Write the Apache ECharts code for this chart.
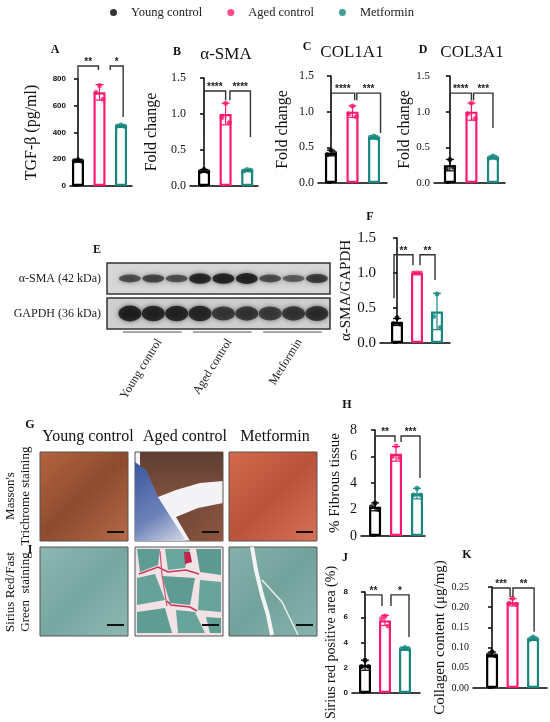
<!DOCTYPE html>
<html style="height: 100%">
<head>
<meta charset="utf-8">
</head>
<body style="height: 100%; margin: 0; background: #fff">
<div id="container" style="width: 550px; height: 722px"></div>
<script src="https://cdn.jsdelivr.net/npm/echarts@6/dist/echarts.min.js"></script>
<script>
var groups = ['Young control', 'Aged control', 'Metformin'];
var groupColors = ['#000000', '#ff1a70', '#17877f'];

// A  TGF-beta
var tgfMean = [190, 700, 450];
var tgfSd = [8, 58, 6];
var tgfPoints = [[196, 188, 186], [752, 700, 648], [456, 448, 447]];
var tgfBrackets = [[0, 0.95, 897, 419, 867, '**'], [1.5, 2.1, 897, 867, 516, '*']];

// B  alpha-SMA mRNA
var smaMean = [0.21, 1.0, 0.22];
var smaSd = [0.02, 0.15, 0.01];
var smaPoints = [[0.23, 0.20, 0.20], [1.15, 0.95, 0.88], [0.23, 0.21, 0.22]];
var smaBrackets = [[0, 1, 1.32, 0.68, 1.19, '****'], [1.2, 2.15, 1.32, 1.19, 0.68, '****']];

// C  COL1A1
var col1Mean = [0.42, 1.0, 0.64];
var col1Sd = [0.04, 0.08, 0.02];
var col1Points = [[0.46, 0.40, 0.42], [1.08, 0.97, 0.93], [0.66, 0.64, 0.63]];
var col1Brackets = [[0, 1.1, 1.26, 0.64, 1.16, '****'], [1.2, 2.3, 1.26, 1.16, 0.70, '***']];

// D  COL3A1
var col3Mean = [0.25, 1.0, 0.36];
var col3Sd = [0.08, 0.12, 0.02];
var col3Points = [[0.33, 0.20, 0.22], [1.12, 0.97, 0.90], [0.38, 0.35, 0.35]];
var col3Brackets = [[0, 1, 1.26, 0.77, 1.16, '****'], [1.1, 2.0, 1.26, 1.16, 0.77, '***']];

// F  alpha-SMA / GAPDH
var ratioMean = [0.30, 1.0, 0.45];
var ratioSd = [0.05, 0.0, 0.26];
var ratioPoints = [[0.36, 0.28, 0.27], [1.0, 1.0, 1.0], [0.70, 0.38, 0.22]];
var ratioBrackets = [[-0.15, 0.8, 1.26, 0.64, 1.11, '**'], [1.15, 1.9, 1.26, 1.11, 0.90, '**']];

// H  % fibrous tissue
var fibMean = [2.2, 6.2, 3.2];
var fibSd = [0.3, 0.55, 0.4];
var fibPoints = [[2.5, 2.2, 2.0], [6.8, 6.0, 5.9], [3.6, 3.1, 3.1]];
var fibBrackets = [[0, 0.95, 7.55, 2.94, 7.1, '**'], [1.24, 2.14, 7.55, 7.1, 4.38, '***']];

// J  Sirius red positive area
var siriusMean = [2.2, 5.75, 3.5];
var siriusSd = [0.4, 0.4, 0.1];
var siriusPoints = [[2.6, 2.1, 2.1], [6.1, 5.9, 5.3], [3.6, 3.5, 3.5]];
var siriusBrackets = [[0, 0.85, 7.77, 3.17, 6.9, '**'], [1.3, 2.2, 7.77, 6.9, 4.44, '*']];

// K  collagen content
var collMean = [0.083, 0.212, 0.122];
var collSd = [0.006, 0.009, 0.004];
var collPoints = [[0.090, 0.082, 0.080], [0.222, 0.210, 0.207], [0.126, 0.120, 0.121]];
var collBrackets = [[0, 0.88, 0.2475, 0.139, 0.225, '***'], [1.02, 2.05, 0.2475, 0.225, 0.139, '**']];

// E  western blot (band darkness 0..1 per lane)
var blotRows = ['α-SMA (42 kDa)', 'GAPDH (36 kDa)'];
var smaBand = [0.55, 0.6, 0.5, 0.92, 0.95, 0.97, 0.55, 0.4, 0.72];
var gapdhBand = [0.97, 0.92, 0.92, 0.9, 0.7, 0.72, 0.65, 0.72, 0.8];
var laneGroups = [[0, 2, 0], [3, 5, 1], [6, 8, 2]];

var serif = 'Liberation Serif';
var jitter = [0, -0.17, 0.17];

var tickSansBold = { fontFamily: 'Liberation Sans', fontWeight: 'bold', fontSize: 8, color: '#111' };
function tickSerif(size) {
	return { fontFamily: serif, fontSize: size, color: '#111' };
}

var panels = [
	{ grid: { left: 70, top: 79, width: 62, height: 107 }, xr: [-0.37, 2.51], yMax: 800, step: 200, dec: 0,
		tick: tickSansBold, name: 'TGF-β (pg/ml)', nameSize: 16, nameGap: 30,
		mean: tgfMean, sd: tgfSd, pts: tgfPoints, br: tgfBrackets },
	{ grid: { left: 190, top: 78, width: 68, height: 108 }, xr: [-0.65, 2.5], yMax: 1.5, step: 0.5, dec: 1,
		tick: tickSerif(12), name: 'Fold change', nameSize: 16, nameGap: 30,
		mean: smaMean, sd: smaSd, pts: smaPoints, br: smaBrackets },
	{ grid: { left: 318, top: 76, width: 69, height: 107 }, xr: [-0.6, 2.6], yMax: 1.5, step: 0.5, dec: 1,
		tick: tickSerif(12), name: 'Fold change', nameSize: 16, nameGap: 27,
		mean: col1Mean, sd: col1Sd, pts: col1Points, br: col1Brackets },
	{ grid: { left: 434, top: 76, width: 71, height: 107 }, xr: [-0.74, 2.56], yMax: 1.5, step: 0.5, dec: 1,
		tick: tickSerif(11), name: 'Fold change', nameSize: 16, nameGap: 18,
		mean: col3Mean, sd: col3Sd, pts: col3Points, br: col3Brackets },
	{ grid: { left: 380, top: 238, width: 70, height: 105 }, xr: [-0.85, 2.65], yMax: 1.5, step: 0.5, dec: 1,
		tick: tickSerif(15), name: 'α-SMA/GAPDH', nameSize: 15, nameGap: 18,
		mean: ratioMean, sd: ratioSd, pts: ratioPoints, br: ratioBrackets },
	{ grid: { left: 361, top: 430, width: 64, height: 106 }, xr: [-0.67, 2.38], yMax: 8, step: 2, dec: 0,
		tick: tickSerif(14), name: '% Fibrous tissue', nameSize: 15, nameGap: 18,
		mean: fibMean, sd: fibSd, pts: fibPoints, br: fibBrackets },
	{ grid: { left: 352, top: 592, width: 68, height: 101 }, xr: [-0.65, 2.75], yMax: 8, step: 2, dec: 0,
		tick: tickSansBold, name: 'Sirius red positive area (%)', nameSize: 14, nameGap: 14,
		mean: siriusMean, sd: siriusSd, pts: siriusPoints, br: siriusBrackets },
	{ grid: { left: 473, top: 587, width: 74, height: 101 }, xr: [-0.93, 2.68], yMax: 0.25, step: 0.05, dec: 2,
		tick: tickSerif(10), name: 'Collagen content (μg/mg)', nameSize: 15, nameGap: 22,
		mean: collMean, sd: collSd, pts: collPoints, br: collBrackets }
];

var grids = [], xAxes = [], yAxes = [], series = [];
var axisLineStyle = { color: '#000', width: 1.5 };

function renderErr(params, api) {
	var g = api.value(0), m = api.value(1), s = api.value(2);
	var top = api.coord([g, m + s]);
	var bot = api.coord([g, m - s]);
	var c = groupColors[g];
	var w = 4;
	return {
		type: 'group',
		children: [
			{ type: 'line', shape: { x1: top[0], y1: top[1], x2: bot[0], y2: bot[1] }, style: { stroke: c, lineWidth: 1.2 } },
			{ type: 'line', shape: { x1: top[0] - w, y1: top[1], x2: top[0] + w, y2: top[1] }, style: { stroke: c, lineWidth: 1.2 } },
			{ type: 'line', shape: { x1: bot[0] - w, y1: bot[1], x2: bot[0] + w, y2: bot[1] }, style: { stroke: c, lineWidth: 1.2 } }
		]
	};
}

function bracketRenderer(list) {
	return function (params, api) {
		var a = api.coord([api.value(0), api.value(2)]);
		var b = api.coord([api.value(1), api.value(2)]);
		var la = api.coord([api.value(0), api.value(3)]);
		var rb = api.coord([api.value(1), api.value(4)]);
		return {
			type: 'group',
			children: [
				{ type: 'polyline', shape: { points: [[la[0], la[1]], [a[0], a[1]], [b[0], b[1]], [rb[0], rb[1]]] },
					style: { stroke: '#333', lineWidth: 1.4, fill: null } },
				{ type: 'text', x: (a[0] + b[0]) / 2, y: a[1] + 1,
					style: { text: list[params.dataIndex][5], fontFamily: 'Liberation Sans', fontWeight: 'bold',
						fontSize: 10, fill: '#222', align: 'center', verticalAlign: 'bottom' } }
			]
		};
	};
}

panels.forEach(function (p, i) {
	grids.push(p.grid);
	xAxes.push({
		type: 'value', gridIndex: i, min: p.xr[0], max: p.xr[1],
		axisLine: { show: true, onZero: false, lineStyle: axisLineStyle },
		axisTick: { show: false }, axisLabel: { show: false }, splitLine: { show: false }
	});
	yAxes.push({
		type: 'value', gridIndex: i, min: 0, max: p.yMax, interval: p.step,
		axisLine: { show: true, lineStyle: axisLineStyle },
		axisTick: { show: true, length: 4, lineStyle: { width: 1.5, color: '#000' } },
		splitLine: { show: false },
		axisLabel: Object.assign({ margin: 4, formatter: (function (d) { return function (v) { return v.toFixed(d); }; })(p.dec) }, p.tick),
		name: p.name, nameLocation: 'middle', nameGap: p.nameGap,
		nameTextStyle: { fontFamily: serif, fontSize: p.nameSize, color: '#111' }
	});
	series.push({
		type: 'bar', xAxisIndex: i, yAxisIndex: i, barWidth: 12, silent: true, z: 2,
		data: p.mean.map(function (m, g) {
			return { value: [g, m], itemStyle: { color: '#fff', borderColor: groupColors[g], borderWidth: 2.2 } };
		})
	});
	series.push({
		type: 'custom', xAxisIndex: i, yAxisIndex: i, silent: true, z: 3, clip: false,
		renderItem: renderErr,
		data: p.mean.map(function (m, g) { return [g, m, p.sd[g]]; })
	});
	groups.forEach(function (name, g) {
		series.push({
			type: 'scatter', name: name, xAxisIndex: i, yAxisIndex: i, z: 4,
			symbolSize: 5, itemStyle: { color: groupColors[g] },
			data: p.pts[g].map(function (v, j) { return [g + jitter[j], v]; })
		});
	});
	series.push({
		type: 'custom', xAxisIndex: i, yAxisIndex: i, silent: true, z: 5, clip: false,
		renderItem: bracketRenderer(p.br),
		data: p.br.map(function (b) { return b.slice(0, 5); })
	});
});

// blot grids
var blotTop = [263, 298];
[smaBand, gapdhBand].forEach(function (bands, r) {
	var gi = grids.length;
	grids.push({ left: 107, top: blotTop[r], width: 223, height: 31, show: true,
		backgroundColor: r === 0 ? '#d6d6d6' : '#cfcfcf', borderColor: '#333', borderWidth: 1.5 });
	xAxes.push({ type: 'value', gridIndex: gi, min: -0.98, max: 8.56, show: false });
	yAxes.push({
		type: 'category', gridIndex: gi, data: [blotRows[r]],
		axisLine: { show: false }, axisTick: { show: false },
		axisLabel: { margin: 6, fontFamily: serif, fontSize: 12, color: '#222' }
	});
	series.push({
		type: 'scatter', xAxisIndex: gi, yAxisIndex: gi, silent: true, symbol: 'circle',
		symbolSize: function (v) { return r === 0 ? [22, 4 + 7 * v[2]] : [23, 10 + 6 * v[2]]; },
		itemStyle: {
			color: function (p) { return 'rgba(12,12,12,' + (0.35 + 0.65 * p.value[2]) + ')'; },
			shadowBlur: 5, shadowColor: 'rgba(0,0,0,0.7)'
		},
		data: bands.map(function (v, k) { return [k, 0, v]; })
	});
	if (r === 1) {
		series.push({
			type: 'custom', xAxisIndex: gi, yAxisIndex: gi, silent: true, clip: false,
			renderItem: function (params, api) {
				var a = api.coord([api.value(0), 0]);
				var b = api.coord([api.value(1), 0]);
				var cs = params.coordSys;
				var y = cs.y + cs.height + 3;
				var mid = (a[0] + b[0]) / 2;
				return {
					type: 'group',
					children: [
						{ type: 'line', shape: { x1: a[0] - 7, y1: y, x2: b[0] + 5, y2: y }, style: { stroke: '#8a8a8a', lineWidth: 1.5 } },
						{ type: 'text', x: mid + 6, y: y + 8, rotation: 58 * Math.PI / 180,
							style: { text: groups[api.value(2)], fontFamily: serif, fontSize: 12, fill: '#222',
								align: 'right', verticalAlign: 'middle' } }
					]
				};
			},
			data: laneGroups
		});
	}
});

// histology tiles (decorative images)
var LG = echarts.graphic.LinearGradient;
function tile(x, y, fill) {
	return { type: 'rect', shape: { x: x, y: y, width: 88, height: 89 }, style: { fill: fill, stroke: '#555', lineWidth: 1 } };
}
function poly(pts, fill) {
	return { type: 'polygon', shape: { points: pts }, style: { fill: fill } };
}
function streak(pts, color, w) {
	return { type: 'polyline', shape: { points: pts }, style: { stroke: color, lineWidth: w, fill: null } };
}
function scaleBar(x, y) {
	return { type: 'line', shape: { x1: x + 67, y1: y + 80, x2: x + 84, y2: y + 80 }, style: { stroke: '#111', lineWidth: 2 } };
}
function txt(t, x, y, size, bold, rot) {
	return { type: 'text', x: x, y: y, rotation: rot || 0,
		style: { text: t, fontFamily: serif, fontSize: size, fontWeight: bold ? 'bold' : 'normal', fill: '#111',
			align: 'center', verticalAlign: 'middle' } };
}

var cols = [40, 135, 229];
var rowG = 452, rowI = 547;
var graphics = [
	tile(cols[0], rowG, new LG(0, 0, 1, 1, [{ offset: 0, color: '#b4643f' }, { offset: 0.5, color: '#8e4b2f' }, { offset: 1, color: '#b66a48' }])),
	tile(cols[1], rowG, '#f3f3f6'),
	poly([[140, 452], [223, 452], [223, 481], [200, 483], [176, 490], [158, 497], [148, 484], [140, 470]],
		new LG(0, 0, 0, 1, [{ offset: 0, color: '#5e3e32' }, { offset: 1, color: '#80503e' }])),
	poly([[135, 462], [146, 470], [158, 497], [170, 516], [186, 541], [135, 541]],
		new LG(0, 0, 1, 1, [{ offset: 0, color: '#3a56a0' }, { offset: 0.6, color: '#6d82b8' }, { offset: 1, color: '#d6dbe8' }])),
	poly([[176, 517], [198, 508], [223, 503], [223, 541], [190, 541]],
		new LG(0, 0, 1, 1, [{ offset: 0, color: '#6e4536' }, { offset: 1, color: '#8e5640' }])),
	tile(cols[2], rowG, new LG(0, 0, 1, 1, [{ offset: 0, color: '#d46a4c' }, { offset: 0.5, color: '#b9533a' }, { offset: 1, color: '#d87156' }])),
	tile(cols[0], rowI, new LG(0, 0, 1, 1, [{ offset: 0, color: '#8cb6b1' }, { offset: 0.5, color: '#78a7a2' }, { offset: 1, color: '#8db8b2' }])),
	tile(cols[1], rowI, '#f1e2e5'),
	poly([[137, 549], [160, 549], [158, 565], [140, 572]], '#5f9d94'),
	poly([[165, 549], [190, 549], [185, 568], [168, 570]], '#6aa59c'),
	poly([[196, 549], [221, 549], [221, 575], [200, 572]], '#5c9a91'),
	poly([[137, 578], [155, 574], [165, 600], [137, 605]], '#66a299'),
	poly([[162, 576], [195, 578], [190, 605], [170, 603]], '#5e9c93'),
	poly([[200, 580], [221, 582], [221, 612], [198, 610]], '#69a49b'),
	poly([[137, 612], [165, 608], [172, 633], [137, 633]], '#5f9d94'),
	poly([[176, 610], [195, 612], [205, 633], [178, 633]], '#67a39a'),
	poly([[206, 617], [221, 618], [221, 633], [210, 633]], '#5f9d94'),
	streak([[139, 574], [158, 567], [168, 572], [186, 570], [199, 574]], '#c8365a', 1.5),
	streak([[167, 601], [171, 605], [190, 607], [197, 611]], '#c8365a', 1.5),
	streak([[160, 551], [162, 575], [167, 606]], '#d05070', 1.2),
	poly([[184, 552], [190, 552], [192, 562], [185, 564]], '#c0244a'),
	tile(cols[2], rowI, new LG(0, 0, 1, 1, [{ offset: 0, color: '#86b1ac' }, { offset: 0.5, color: '#73a29d' }, { offset: 1, color: '#88b3ae' }])),
	streak([[252, 547], [256, 570], [262, 595], [268, 615], [272, 635]], '#f4f4f4', 4),
	streak([[262, 580], [282, 602], [298, 635]], '#e8eeee', 1.5),
	txt('Young control', 88, 437, 16),
	txt('Aged control', 185, 437, 16),
	txt('Metformin', 275, 437, 16),
	txt("Masson's", 11, 496, 13, false, Math.PI / 2),
	txt('Trichrome staining', 26, 496, 13, false, Math.PI / 2),
	txt('Sirius Red/Fast', 11, 592, 13, false, Math.PI / 2),
	txt('Green  staining', 26, 592, 13, false, Math.PI / 2),
	txt('α-SMA', 226, 55, 17),
	txt('COL1A1', 352, 53, 17),
	txt('COL3A1', 472, 53, 17)
];
cols.forEach(function (x) {
	graphics.push(scaleBar(x, rowG));
	graphics.push(scaleBar(x, rowI - 2));
});
[['A', 55, 50], ['B', 177, 52], ['C', 307, 47], ['D', 423, 50], ['E', 97, 250], ['F', 370, 217],
	['G', 30, 425], ['H', 347, 405], ['I', 30, 550], ['J', 345, 558], ['K', 467, 555]].forEach(function (l) {
	graphics.push(txt(l[0], l[1], l[2], 12, true));
});

var chart = echarts.init(document.getElementById('container'));
chart.setOption({
	animation: false,
	backgroundColor: '#fff',
	legend: {
		data: groups, top: 1, left: 105, icon: 'circle', itemWidth: 7, itemHeight: 7, itemGap: 25,
		textStyle: { fontFamily: serif, fontSize: 12.5, color: '#222', padding: [0, 0, 0, 9] }
	},
	grid: grids,
	xAxis: xAxes,
	yAxis: yAxes,
	series: series,
	graphic: graphics
});
</script>
</body>
</html>
